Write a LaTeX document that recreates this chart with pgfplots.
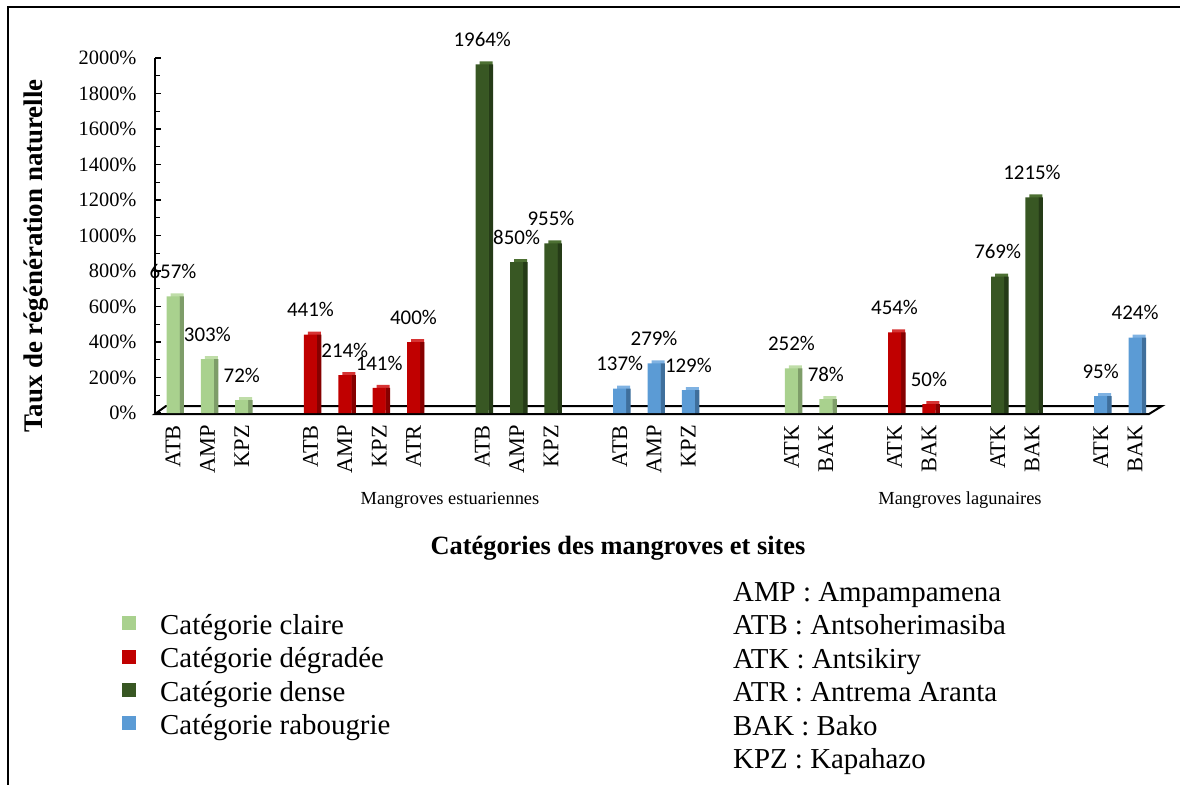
\documentclass[border=0pt]{standalone}
\usepackage{pgfplots}
\pgfplotsset{compat=1.18}
\usepackage{fontspec}
\setmainfont{Liberation Serif}
\newfontfamily\calibri{Carlito}

% front, side and top faces of the 3D columns
\definecolor{claire}{HTML}{A9D18E}
\definecolor{claireS}{HTML}{7E9D69}
\definecolor{claireT}{HTML}{BFDDA8}
\definecolor{degr}{HTML}{C00000}
\definecolor{degrS}{HTML}{860000}
\definecolor{degrT}{HTML}{D63333}
\definecolor{dense}{HTML}{385723}
\definecolor{denseS}{HTML}{253B17}
\definecolor{denseT}{HTML}{4D7033}
\definecolor{rab}{HTML}{5B9BD5}
\definecolor{rabS}{HTML}{3F6F9C}
\definecolor{rabT}{HTML}{7FB2E2}

% taux de régénération (%) par catégorie ; x = position du site sur l'axe
\pgfplotstableread{
x   y
0   657
1   303
2   72
18  252
19  78
}\claire
\pgfplotstableread{
x   y
4   441
5   214
6   141
7   400
21  454
22  50
}\degradee
\pgfplotstableread{
x   y
9   1964
10  850
11  955
24  769
25  1215
}\dense
\pgfplotstableread{
x   y
13  137
14  279
15  129
27  95
28  424
}\rabougrie

\begin{document}
\begin{tikzpicture}
\begin{scope}[x=1bp,y=-1bp]
  % cadre
  \draw[line width=2.5bp] (8,786) -- (8,7) -- (1180,7);
  % plancher 3D de l'axe des abscisses
  \draw[line width=2bp, line join=miter, fill=white]
    (155,414) -- (1149,414) -- (1162,406) -- (166,406) -- cycle;
\end{scope}

\begin{axis}[
  at={(155bp,-413bp)}, anchor=south west,
  scale only axis, width=1000bp, height=355bp,
  xmin=-0.524, xmax=28.58, ymin=0, ymax=2000,
  clip=false,
  axis lines*=left,
  x axis line style={draw=none},
  y axis line style={line width=2.2bp},
  ybar, bar width=13bp, bar shift=0pt,
  xtick={0,1,2,4,5,6,7,9,10,11,13,14,15,18,19,21,22,24,25,27,28},
  xticklabels={ATB,AMP,KPZ,ATB,AMP,KPZ,ATR,ATB,AMP,KPZ,ATB,AMP,KPZ,ATK,BAK,ATK,BAK,ATK,BAK,ATK,BAK},
  xtick style={draw=none},
  xticklabel style={rotate=90, anchor=east, inner sep=0pt,
    font=\fontsize{22.5}{25}\selectfont},
  xticklabel shift=12bp,
  ytick={0,200,...,2000},
  minor y tick num=1,
  tick align=inside,
  major tick length=6bp, minor tick length=5bp,
  ytick style={line width=1.2bp, black},
  yticklabel={\pgfmathprintnumber[assume math mode=true,1000 sep={},fixed,precision=0]{\tick}\%},
  yticklabel style={font=\fontsize{20.5}{24}\selectfont, xshift=-15bp},
  legend style={at={(-0.033,-0.5634)}, anchor=north west, draw=none, fill=none,
    inner sep=0pt, row sep=5.4bp, column sep=24bp,
    font=\fontsize{29}{33}\selectfont,
    nodes={inner sep=0pt, text height=21bp, text depth=7bp}},
  legend cell align=left,
]
% faces supérieures et latérales
\addplot[forget plot, fill=claireT, draw=none, bar shift=4bp, yshift=3bp] table {\claire};
\addplot[forget plot, fill=claireS, draw=none, bar width=4.5bp, bar shift=8.7bp] table {\claire};
\addplot[forget plot, fill=degrT, draw=none, bar shift=4bp, yshift=3bp] table {\degradee};
\addplot[forget plot, fill=degrS, draw=none, bar width=4.5bp, bar shift=8.7bp] table {\degradee};
\addplot[forget plot, fill=denseT, draw=none, bar shift=4bp, yshift=3bp] table {\dense};
\addplot[forget plot, fill=denseS, draw=none, bar width=4.5bp, bar shift=8.7bp] table {\dense};
\addplot[forget plot, fill=rabT, draw=none, bar shift=4bp, yshift=3bp] table {\rabougrie};
\addplot[forget plot, fill=rabS, draw=none, bar width=4.5bp, bar shift=8.7bp] table {\rabougrie};

% faces avant avec étiquettes de valeurs
\pgfplotsset{every axis plot/.append style={
  nodes near coords={\pgfmathprintnumber[assume math mode=true,1000 sep={},fixed,precision=0]{\pgfplotspointmeta}\%},
  every node near coord/.append style={anchor=center, yshift=25bp, black,
    font=\calibri\fontsize{21}{24}\selectfont}}}
\addplot[fill=claire, draw=none,
  legend image code/.code={\fill[claire] (0bp,-3bp) rectangle (14bp,11bp);}] table {\claire};
\addlegendentry{Catégorie claire}
\addplot[fill=degr, draw=none,
  legend image code/.code={\fill[degr] (0bp,-3bp) rectangle (14bp,11bp);}] table {\degradee};
\addlegendentry{Catégorie dégradée}
\addplot[fill=dense, draw=none,
  legend image code/.code={\fill[dense] (0bp,-3bp) rectangle (14bp,11bp);}] table {\dense};
\addlegendentry{Catégorie dense}
\addplot[fill=rab, draw=none,
  legend image code/.code={\fill[rab] (0bp,-3bp) rectangle (14bp,11bp);}] table {\rabougrie};
\addlegendentry{Catégorie rabougrie}
\end{axis}

\begin{scope}[x=1bp,y=-1bp]
  \node[rotate=90, font=\bfseries\fontsize{27}{30}\selectfont] at (36,256)
    {Taux de régénération naturelle};
  \node[font=\fontsize{18.5}{22}\selectfont] at (450,500) {Mangroves estuariennes};
  \node[font=\fontsize{18.5}{22}\selectfont] at (960,500) {Mangroves lagunaires};
  \node[font=\bfseries\fontsize{26.5}{30}\selectfont] at (618,548)
    {Catégories des mangroves et sites};
  \foreach \t [count=\i from 0] in {AMP : Ampampamena, ATB : Antsoherimasiba,
      ATK : Antsikiry, ATR : Antrema Aranta, BAK : Bako, KPZ : Kapahazo}
    \node[anchor=base west, inner sep=0pt, font=\fontsize{29}{33}\selectfont]
      at (733,601.5+33.4*\i) {\t};
\end{scope}

\pgfresetboundingbox
\useasboundingbox (0,0) rectangle (1186bp,-785bp);
\end{tikzpicture}
\end{document}
